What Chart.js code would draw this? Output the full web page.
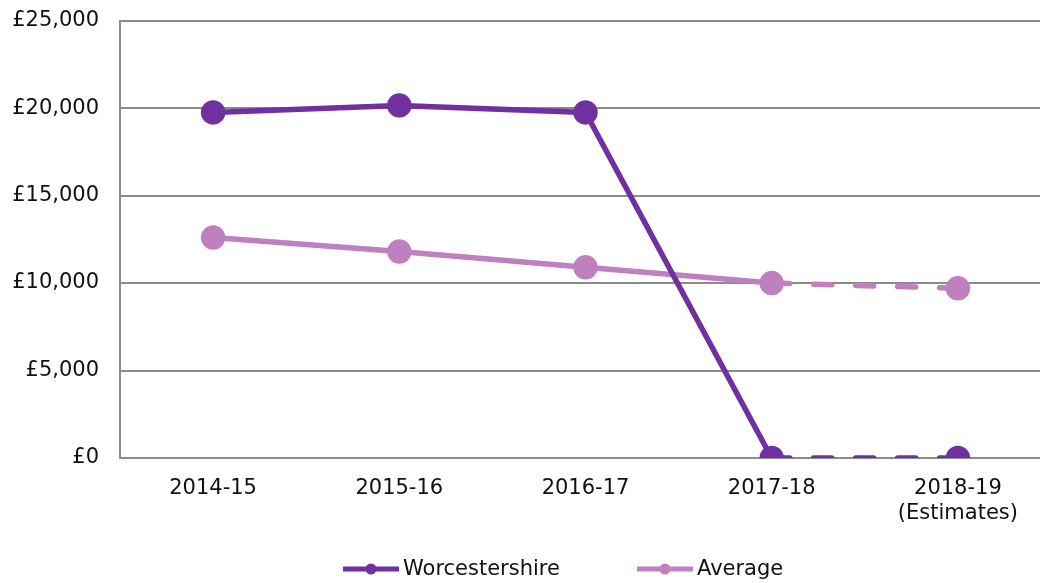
<!DOCTYPE html>
<html>
<head>
<meta charset="utf-8">
<script src="https://cdn.jsdelivr.net/npm/chart.js@4.4.1/dist/chart.umd.min.js"></script>
<style>
  html, body { margin: 0; padding: 0; background: #fff; overflow: hidden; }
  #wrap { width: 1040px; height: 583px; overflow: hidden; position: relative; }
  #chart { position: absolute; left: 0; top: -13px; }
</style>
</head>
<body>
<div id="wrap"><canvas id="chart" width="1066" height="596"></canvas></div>
<script>
// ===== Data =====
const years = ["2014-15", "2015-16", "2016-17", "2017-18", ["2018-19", "(Estimates)"]];
const worcestershire = [19750, 20150, 19750, 0, 0];
const average = [12600, 11800, 10900, 10000, 9700];
const yTicks = [0, 5000, 10000, 15000, 20000, 25000];

const FONT = "'DejaVu Sans', Verdana, sans-serif";
const DARK = "#7030a0";
const LIGHT = "#c080c0";
const estIdx = 3; // segments from this index on are estimates (dashed)

const fmt = (v) => "£" + v.toLocaleString("en-GB");

// legend drawn by hand: line + dot + label
const legendPlugin = {
  id: "lineLegend",
  afterDraw(chart) {
    const ctx = chart.ctx;
    const starts = [343, 637];
    ctx.save();
    ctx.font = "21px " + FONT;
    ctx.textBaseline = "middle";
    chart.data.datasets.forEach((ds, i) => {
      const x = starts[i], y = 582;
      ctx.strokeStyle = ds.borderColor;
      ctx.lineWidth = 5;
      ctx.beginPath(); ctx.moveTo(x, y); ctx.lineTo(x + 56, y); ctx.stroke();
      ctx.fillStyle = ds.borderColor;
      ctx.beginPath(); ctx.arc(x + 28, y, 5.5, 0, Math.PI * 2); ctx.fill();
      ctx.fillStyle = "#111";
      ctx.fillText(ds.label, x + 60, y + 1);
    });
    ctx.restore();
  }
};

function mkSet(label, data, color) {
  return {
    label, data,
    borderColor: color, backgroundColor: color,
    pointBackgroundColor: color, pointBorderColor: color,
    borderWidth: 5.5, pointRadius: 9.5, pointHoverRadius: 9.5,
    borderCapStyle: "round",
    tension: 0,
    segment: { borderDash: (c) => c.p0DataIndex >= estIdx ? [18, 24] : undefined }
  };
}

new Chart(document.getElementById("chart"), {
  type: "line",
  data: {
    labels: years,
    datasets: [mkSet("Worcestershire", worcestershire, DARK), mkSet("Average", average, LIGHT)]
  },
  plugins: [legendPlugin],
  options: {
    responsive: false,
    animation: false,
    layout: { padding: 0 },
    plugins: { legend: { display: false }, tooltip: { enabled: false } },
    scales: {
      x: {
        offset: true,
        grid: { display: false, drawTicks: false, offset: true },
        border: { display: true, color: "#8c8c8c", width: 2 },
        ticks: { color: "#111", font: { family: FONT, size: 21 }, padding: 18, maxRotation: 0 },
        afterFit: (s) => { s.height = 125; }
      },
      y: {
        min: 0, max: 25000,
        afterBuildTicks: (s) => { s.ticks = yTicks.map(v => ({ value: v })); },
        grid: { color: "#8c8c8c", lineWidth: 2, drawTicks: false },
        border: { display: true, color: "#8c8c8c", width: 2 },
        ticks: { color: "#111", font: { family: FONT, size: 21 }, padding: 21, callback: (v) => fmt(v) },
        afterFit: (s) => { s.width = 120; }
      }
    }
  }
});
</script>
</body>
</html>
